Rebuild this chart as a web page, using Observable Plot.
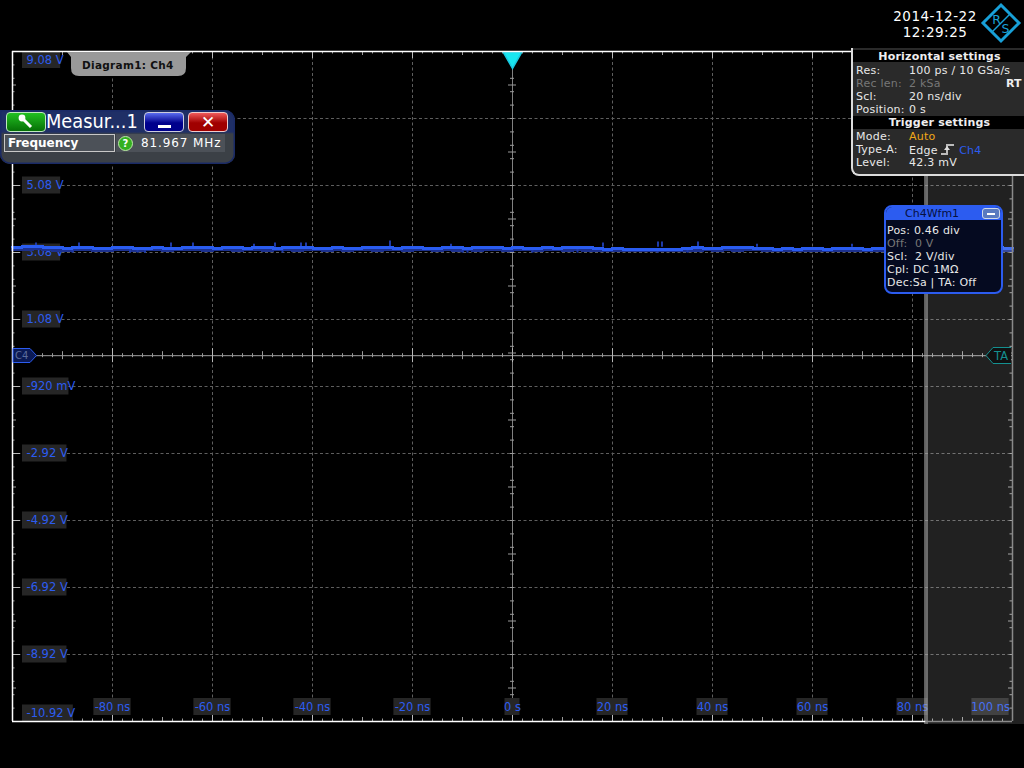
<!DOCTYPE html>
<html><head><meta charset="utf-8">
<script src="https://cdn.jsdelivr.net/npm/d3@7"></script>
<script src="https://cdn.jsdelivr.net/npm/@observablehq/plot@0.6"></script>
<style>
html,body{margin:0;padding:0;background:#000;width:1024px;height:768px;overflow:hidden}
body{position:relative;font-family:"DejaVu Sans",sans-serif;color:#e8e8e8;font-size:11px}
#chart svg{display:block;overflow:visible}
.abs{position:absolute;white-space:nowrap}
.row{position:absolute;left:3px;line-height:13px;white-space:pre;letter-spacing:.25px}
.row b{font-weight:normal;position:absolute;left:53px}
.dim{color:#777}
</style></head><body>
<div id="chart"></div>
<script>
// ---- axis values ----
const xTicks = [-80,-60,-40,-20,0,20,40,60,80,100];
const xTickText = ["-80 ns","-60 ns","-40 ns","-20 ns","0 s","20 ns","40 ns","60 ns","80 ns","100 ns"];
const yTicks = [9.08,7.08,5.08,3.08,1.08,-0.92,-2.92,-4.92,-6.92,-8.92,-10.92];
const yTickText = ["9.08 V","7.08 V","5.08 V","3.08 V","1.08 V","-920 mV","-2.92 V","-4.92 V","-6.92 V","-8.92 V","-10.92 V"];
const yLabelHidden = ["7.08 V"];
// ---- waveform, Ch4, one reading every 2 ns from -100 ns ----
const traceTime = [-100,-98,-96,-94,-92,-90,-88,-86,-84,-82,-80,-78,-76,-74,-72,-70,-68,-66,-64,-62,
 -60,-58,-56,-54,-52,-50,-48,-46,-44,-42,-40,-38,-36,-34,-32,-30,-28,-26,-24,-22,
 -20,-18,-16,-14,-12,-10,-8,-6,-4,-2,0,2,4,6,8,10,12,14,16,18,
 20,22,24,26,28,30,32,34,36,38,40,42,44,46,48,50,52,54,56,58,
 60,62,64,66,68,70,72,74,76,78,80,82,84,86,88,90,92,94,96,98,100];
const traceBright = [3.24,3.27,3.27,3.24,3.24,3.21,3.24,3.24,3.21,3.21,3.24,3.24,3.21,3.21,3.24,3.21,3.21,3.24,3.24,3.24,
 3.21,3.24,3.24,3.21,3.24,3.24,3.21,3.24,3.24,3.24,3.21,3.21,3.24,3.21,3.21,3.24,3.24,3.24,3.21,3.24,
 3.24,3.21,3.21,3.24,3.24,3.21,3.24,3.24,3.24,3.21,3.24,3.21,3.21,3.24,3.21,3.24,3.24,3.24,3.21,3.18,
 3.21,3.18,3.18,3.18,3.18,3.18,3.18,3.21,3.24,3.21,3.21,3.24,3.24,3.24,3.21,3.21,3.18,3.21,3.18,3.21,
 3.21,3.18,3.21,3.21,3.21,3.18,3.21,3.21,3.24,3.21,3.21,3.21,3.24,3.21,3.21,3.18,3.21,3.21,3.24,3.21,3.21];
const traceDark = [3.18,3.18,3.21,3.18,3.15,3.15,3.18,3.18,3.15,3.15,3.18,3.18,3.15,3.18,3.18,3.15,3.18,3.18,3.18,3.15,
 3.18,3.18,3.15,3.18,3.18,3.15,3.18,3.18,3.15,3.18,3.18,3.15,3.18,3.15,3.18,3.18,3.15,3.18,3.18,3.15,
 3.18,3.18,3.15,3.18,3.15,3.18,3.15,3.18,3.18,3.15,3.18,3.18,3.15,3.18,3.18,3.15,3.18,3.15,3.15,3.15,
 3.15,3.15,3.15,3.15,3.15,3.15,3.15,3.15,3.15,3.18,3.15,3.18,3.15,3.18,3.18,3.15,3.15,3.15,3.15,3.15,
 3.15,3.15,3.15,3.15,3.15,3.15,3.15,3.15,3.18,3.15,3.15,3.18,3.15,3.15,3.15,3.15,3.15,3.18,3.15,3.15,3.15];
const spikeUpTime = [-95.3,-86.7,-68.3,-63.9,-51.7,-47.5,-42.3,-41.3,-24.5,-12.3,18.1,29.1,29.9,37.1,48.9,67.9];
const spikeUpTop = [3.36,3.36,3.36,3.36,3.33,3.36,3.36,3.36,3.42,3.33,3.36,3.39,3.39,3.39,3.33,3.33];
const spikeDownTime = [-88,-76.5,-75,-73.5,-46,-10,-9,4,13,29,35];
const spikeDownEnd = [3.06,3.06,3.06,3.06,3.06,3.06,3.06,3.06,3.06,3.06,3.06];
// ---- screen furniture in chart units ----
const shadeFrom = 82.7, shadeTo = 102.4;
const xDomain = [-100,100], yDomain = [-10.92,9.08];

const font = "DejaVu Sans, sans-serif";
const blue = "#2c5cf0", box = "#262626";
const xPerPx = 0.2, yPerPx = 2/67;
const seq = (a,b,s) => d3.range(Math.round((b-a)/s)+1).map(i => +(a+i*s).toFixed(3));
const xMinor = seq(-100,100,2), xMid = seq(-100,100,10), xMajor = seq(-100,100,20);
const yMinor = seq(-10.92,9.08,0.4), yMid = seq(-9.92,8.08,2);
const gridGrey = "#5e5e5e";
const rulesX = (v,y,len,color) => Plot.ruleX(v,{x:d=>d,y1:y-len*yPerPx,y2:y+len*yPerPx,stroke:color,strokeWidth:1});
const rulesY = (v,x,len,color) => Plot.ruleY(v,{y:d=>d,x1:x-len*xPerPx,x2:x+len*xPerPx,stroke:color,strokeWidth:1});
const xLabels = xTicks.map((t,i)=>({t:t===100?95.6:t,text:xTickText[i],w:t===0?15:xTickText[i].length*6.2}));
const yLabels = yTicks.map((v,i)=>({v,text:yTickText[i],w:yTickText[i].length*6.35+(i===5?2:0),
  c:i===0?v-8.5*yPerPx:i===10?v+8*yPerPx:v})).filter(d=>!yLabelHidden.includes(d.text));

const plot = Plot.plot({
  width:1024,height:768,marginLeft:12,marginRight:12,marginTop:51,marginBottom:47,
  x:{domain:xDomain,range:[12,1012],axis:null},
  y:{domain:yDomain,range:[721,51],axis:null},
  style:{background:"#000",fontFamily:font},
  marks:[
    // dashed grid
    Plot.ruleX(xTicks.filter(t=>t!==0&&t!==100),{stroke:gridGrey,strokeDasharray:"3 2.5",strokeWidth:1}),
    Plot.ruleY(yTicks.slice(1,-1),{stroke:gridGrey,strokeDasharray:"3 2.5",strokeWidth:1}),
    // central axes
    Plot.ruleX([0],{stroke:"#808080",strokeWidth:1}),
    Plot.ruleY([0],{stroke:"#a0a0a0",strokeWidth:1}),
    rulesX(xMinor,0,2,"#9a9a9a"), rulesX(xMid,0,4,"#9a9a9a"), rulesX(xMajor,0,7,"#b8b8b8"),
    rulesY(yMinor,0,2,"#9a9a9a"), rulesY(yMid,0,4,"#9a9a9a"),
    // frame ticks
    Plot.ruleX(xMinor,{x:d=>d,y1:-10.92,y2:-10.92+2.5*yPerPx,stroke:"#999"}),
    Plot.ruleX(xMid,{x:d=>d,y1:-10.92,y2:-10.92+4*yPerPx,stroke:"#999"}),
    Plot.ruleX(xMajor,{x:d=>d,y1:-10.92,y2:-10.92+7*yPerPx,stroke:"#bbb"}),
    Plot.ruleX(xMinor,{x:d=>d,y1:9.08,y2:9.08-2.5*yPerPx,stroke:"#999"}),
    Plot.ruleX(xMid,{x:d=>d,y1:9.08,y2:9.08-4*yPerPx,stroke:"#999"}),
    Plot.ruleX(xMajor,{x:d=>d,y1:9.08,y2:9.08-7*yPerPx,stroke:"#bbb"}),
    Plot.ruleY(yMinor,{y:d=>d,x1:-100,x2:-100+2.5*xPerPx,stroke:"#999"}),
    Plot.ruleY(yMid,{y:d=>d,x1:-100,x2:-100+4*xPerPx,stroke:"#999"}),
    Plot.ruleY(yTicks,{y:d=>d,x1:-100,x2:-100+8*xPerPx,stroke:"#bbb"}),
    Plot.ruleY(yMinor,{y:d=>d,x1:100,x2:100-2.5*xPerPx,stroke:"#999"}),
    Plot.ruleY(yMid,{y:d=>d,x1:100,x2:100-4*xPerPx,stroke:"#999"}),
    // label boxes sit under the waveform
    Plot.rect(yLabels,{x1:-98,x2:d=>-98+d.w*xPerPx,y1:d=>d.c-8.5*yPerPx,y2:d=>d.c+8.5*yPerPx,fill:box}),
    Plot.rect(xLabels,{x1:d=>d.t-d.w/2*xPerPx,x2:d=>d.t+d.w/2*xPerPx,y1:-10.92+6*yPerPx,y2:-10.92+23*yPerPx,fill:box}),
    // labels
    Plot.text(yLabels,{x:-97.2,y:d=>d.c,text:"text",textAnchor:"start",fill:blue,fontSize:11.5,fontFamily:font}),
    Plot.text(xLabels,{x:"t",y:-10.92+14.5*yPerPx,text:"text",fill:blue,fontSize:11.5,fontFamily:font}),
    // waveform
    Plot.line(traceTime.map((t,i)=>[t,traceDark[i]]),{x:d=>d[0],y:d=>d[1],curve:"step-after",stroke:"#1c318f",strokeWidth:3.5,shapeRendering:"crispEdges"}),
    Plot.ruleX(spikeUpTime,{x:d=>d,y1:3.24,y2:(d,i)=>spikeUpTop[i],stroke:"#1e3aa8",strokeWidth:2}),
    Plot.ruleX(spikeDownTime,{x:d=>d,y1:3.18,y2:(d,i)=>spikeDownEnd[i],stroke:"#1e3aa8",strokeWidth:2}),
    Plot.line(traceTime.map((t,i)=>[t,traceBright[i]]),{x:d=>d[0],y:d=>d[1],curve:"step-after",stroke:"#2a5cf0",strokeWidth:3,shapeRendering:"crispEdges"}),
    // trigger marker
    Plot.dot([0],{x:d=>d,y:9.08,dy:6,symbol:"triangle",r:7,rotate:180,fill:"#19e6f0",stroke:"#19c8e0"}),
    // shaded limit band
    Plot.rect([0],{x1:shadeFrom,x2:shadeTo,y1:yDomain[0]-3*yPerPx,y2:yDomain[1],fill:"#fff",fillOpacity:0.13}),
    Plot.rect([0],{x1:shadeFrom-0.3,x2:shadeFrom+0.5,y1:yDomain[0]-3*yPerPx,y2:yDomain[1],fill:"#aaa",fillOpacity:0.55}),
    // frame
    Plot.ruleX([-100],{stroke:"#fff",strokeWidth:1.5}),
    Plot.ruleX([100],{stroke:"#8a8a8a",strokeWidth:1.5}),
    Plot.ruleY([9.08],{stroke:"#fff",strokeWidth:1.5}),
    Plot.ruleY([-10.92],{x1:-100,x2:82.7,stroke:"#fff",strokeWidth:1.5}),
    Plot.ruleY([-10.92],{x1:82.7,x2:100,stroke:"#8a8a8a",strokeWidth:1.5})
  ]
});
document.getElementById("chart").appendChild(plot);
</script>

<!-- Channel and trigger-level flags, logo -->
<svg class="abs" style="left:0;top:0" width="1024" height="768" font-family="DejaVu Sans, sans-serif">
  <path d="M13 348.5H30L36.5 355.5L30 362.5H13Z" fill="#0b1a55" stroke="#2c5cf0"/>
  <text x="15" y="359" font-size="10" fill="#5c6c9c">C4</text>
  <path d="M1011 347.5H993L986 355.5L993 363.5H1011" fill="#111" stroke="#149090"/>
  <text x="994" y="359.5" font-size="11.5" fill="#149090">TA</text>
  <path d="M67 52H191L186 57V68Q186 76 178 76H79Q71 76 71 68V57Z" fill="#999"/>
  <text x="82" y="69" font-size="10.5" font-weight="bold" letter-spacing=".3" fill="#111">Diagram1: Ch4</text>
  <g transform="translate(1001 23)" fill="#18a0d8">
    <path d="M0-18L18 0L0 18L-18 0Z" fill="none" stroke="#18a0d8" stroke-width="3"/>
    <path d="M-9 9L9-9" stroke="#18a0d8" stroke-width="1.5"/>
    <text x="-4.5" y="0.5" text-anchor="middle" font-size="12.5">R</text>
    <text x="4.5" y="10" text-anchor="middle" font-size="12.5">S</text>
  </g>
</svg>

<div class="abs" style="left:885px;top:8px;width:100px;text-align:center;color:#fff;font-size:13.5px;line-height:16px;letter-spacing:.5px">2014-12-22<br>12:29:25</div>

<!-- Measurement panel -->
<div class="abs" style="left:0;top:110px;width:235px;height:54px;border-radius:0 10px 10px 10px;background:linear-gradient(#1f2f66 0,#1f2f66 22px,#3b4046 24px,#3b4046 100%);box-shadow:inset 0 0 0 1.5px #1a2a66">
  <div class="abs" style="left:6px;top:2px;width:38px;height:18px;border:1px solid #bfe8bf;border-radius:4px;background:linear-gradient(#22c022,#067006);color:#fff;font-size:13px;text-align:center;line-height:18px">
    <svg width="18" height="16" viewBox="0 0 18 16" style="vertical-align:-3px"><path d="M3 3L7 7L14 14" stroke="#fff" stroke-width="3" fill="none"/><circle cx="5" cy="5" r="3.4" fill="#fff"/></svg></div>
  <div class="abs" style="left:46px;top:-1px;color:#fff;font-size:20px;line-height:24px;transform:scaleX(.89);transform-origin:0 0">Measur...1</div>
  <div class="abs" style="left:144px;top:2px;width:38px;height:18px;border:1px solid #ccd;border-radius:4px;background:linear-gradient(#5a6cf0,#00008c 55%)"><div class="abs" style="left:13px;top:12px;width:13px;height:2.5px;background:#fff"></div></div>
  <div class="abs" style="left:188px;top:2px;width:38px;height:18px;border:1px solid #ecc;border-radius:4px;background:linear-gradient(#f05a5a,#a00000 55%);color:#fff;font-size:17px;font-weight:bold;text-align:center;line-height:18px">✕</div>
  <div class="abs" style="left:4px;top:24px;width:109px;height:16px;border:1px solid #c8c8c8;background:#4c5158;color:#fff;font-weight:bold;font-size:12px;line-height:16px;text-indent:3px">Frequency</div>
  <div class="abs" style="left:116px;top:24px;width:109px;height:18px;background:#4c5158;color:#fff;font-size:12px;line-height:18px">
    <span class="abs" style="left:2px;top:2px;width:13px;height:13px;border-radius:50%;background:#34b020;border:1px solid #bde8a8;text-align:center;font-size:10px;line-height:13px;font-weight:bold">?</span>
    <span class="abs" style="left:25px;top:0;letter-spacing:.9px;font-size:12px">81.967 MHz</span>
  </div>
</div>

<!-- Settings panel -->
<div class="abs" style="left:851px;top:48px;width:173px;height:126px;background:#2a2a2a;border:2px solid #dcdcdc;border-width:0 0 2px 2px;border-bottom-left-radius:8px">
  <div class="abs" style="left:0;top:2px;width:100%;height:12px;background:#000;color:#eee;font-weight:bold;text-align:center;line-height:13px;letter-spacing:.2px">Horizontal settings</div>
  <div class="row" style="top:16px">Res:<b>100 ps / 10 GSa/s</b></div>
  <div class="row dim" style="top:29px">Rec len:<b>2 kSa</b></div>
  <div class="abs" style="left:153px;top:29px;font-weight:bold;color:#eee;line-height:13px">RT</div>
  <div class="row" style="top:42px">Scl:<b>20 ns/div</b></div>
  <div class="row" style="top:55px">Position:<b>0 s</b></div>
  <div class="abs" style="left:0;top:68px;width:100%;height:13px;background:#000;color:#eee;font-weight:bold;text-align:center;line-height:13px;letter-spacing:.2px">Trigger settings</div>
  <div class="row" style="top:82px">Mode:<b style="color:#f0a818">Auto</b></div>
  <div class="row" style="top:95px">Type-A:<b>Edge <svg width="14" height="12" viewBox="0 0 14 12" style="vertical-align:-1px"><path d="M0 11H6V2H13" stroke="#bbb" stroke-width="2" fill="none"/><path d="M3 7L6 3L9 7Z" fill="#ddd"/></svg> <span style="color:#2c5cf0">Ch4</span></b></div>
  <div class="row" style="top:108px">Level:<b>42.3 mV</b></div>
</div>

<!-- Channel panel -->
<div class="abs" style="left:884px;top:205px;width:115px;height:85px;background:#050a20;border:2px solid #2c5cf0;border-radius:8px">
  <div class="abs" style="left:0;top:0;width:100%;height:13px;background:#2c5cf0;color:#061040;font-size:11px;line-height:13px;text-indent:19px;border-radius:6px 6px 0 0">Ch4Wfm1</div>
  <div class="abs" style="left:96px;top:1px;width:16px;height:9px;border:1px solid #cfd8e8;border-radius:3px;background:#5a7ac0"><div class="abs" style="left:4px;top:4px;width:8px;height:1.5px;background:#fff"></div></div>
  <div class="abs" style="left:1px;top:17px;line-height:13px;white-space:pre;letter-spacing:.2px">Pos: 0.46 div
<span class="dim">Off:  0 V</span>
Scl:  2 V/div
Cpl: DC 1MΩ
Dec:Sa | TA: Off</div>
</div>
</body></html>
